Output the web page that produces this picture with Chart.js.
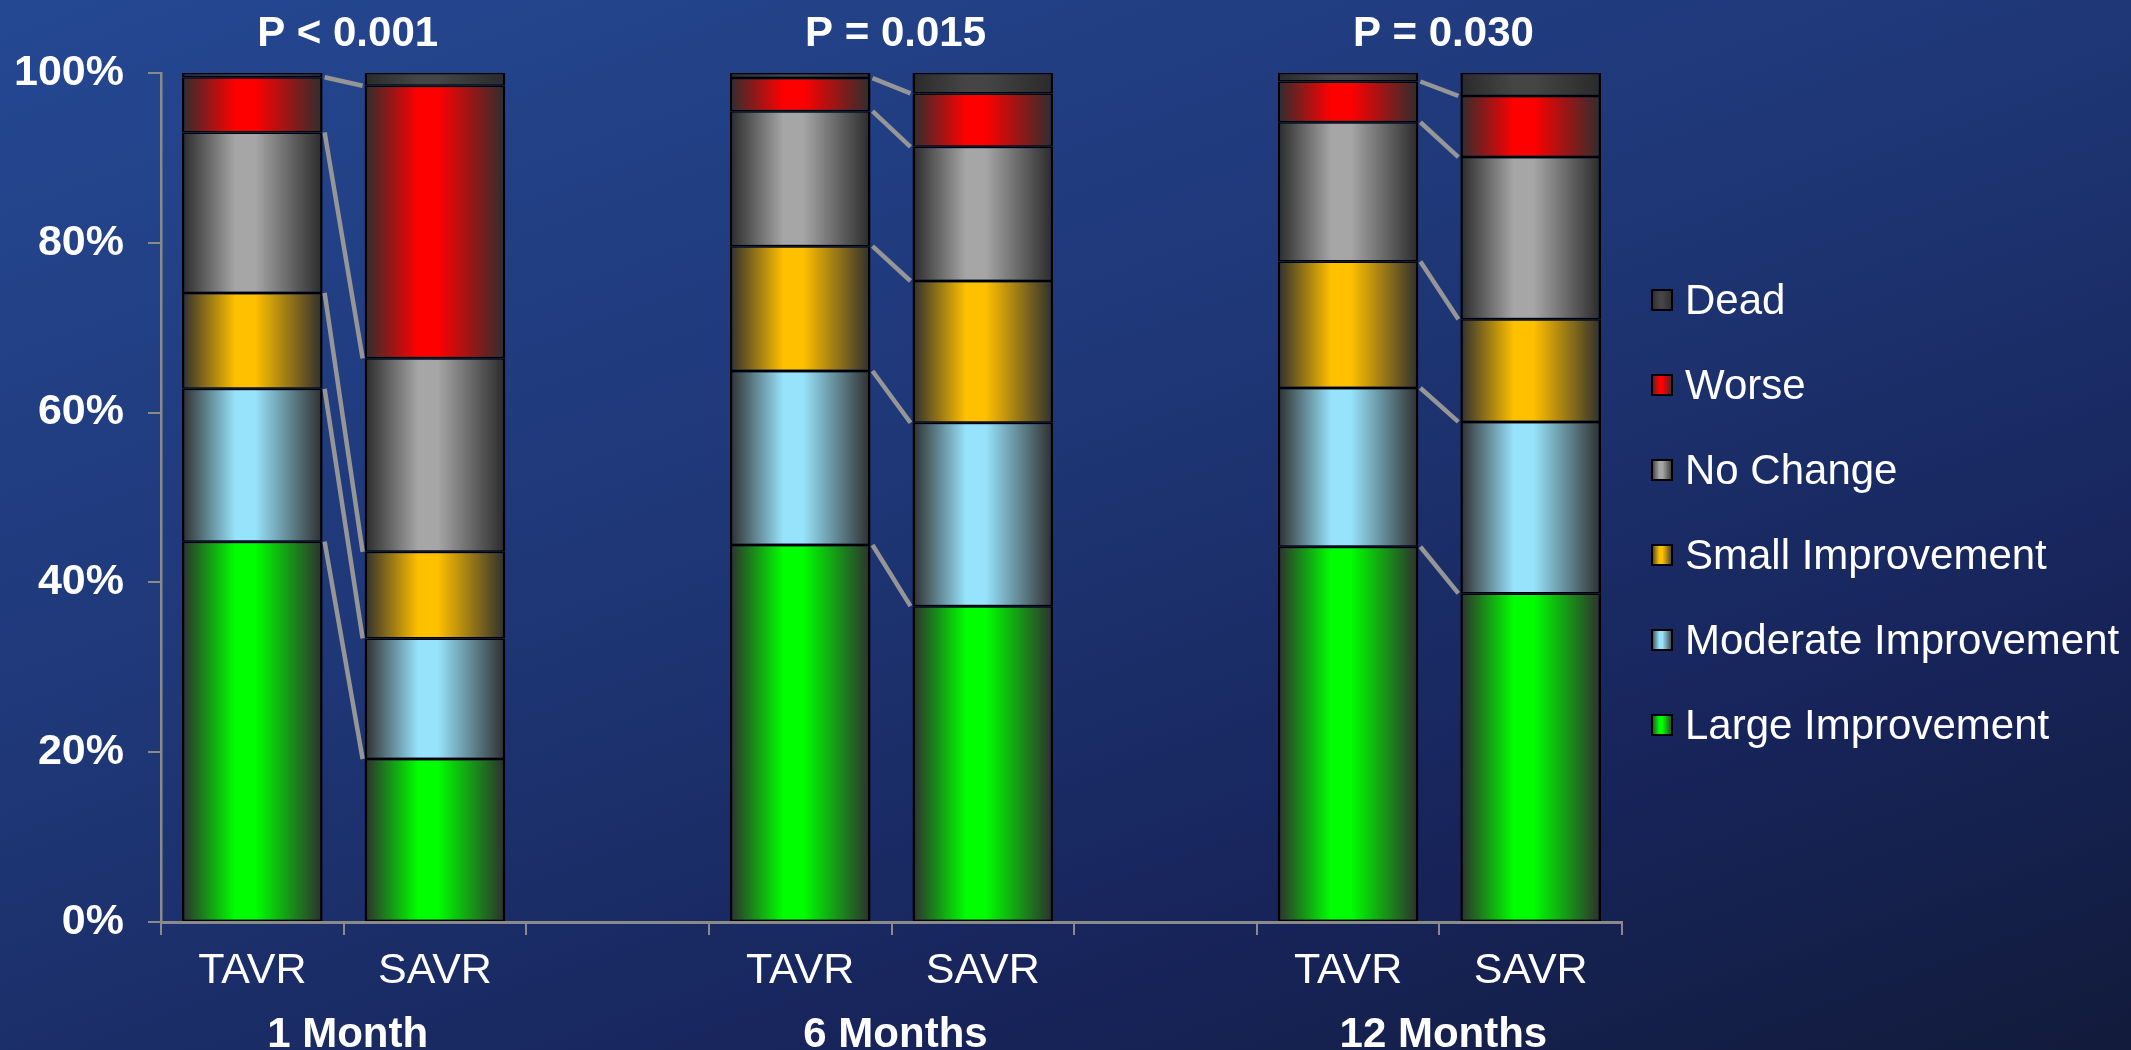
<!DOCTYPE html>
<html>
<head>
<meta charset="utf-8">
<script src="https://cdn.jsdelivr.net/npm/chart.js@4.4.1/dist/chart.umd.min.js"></script>
<style>
  html, body {
    margin: 0;
    padding: 0;
    width: 2131px;
    height: 1050px;
    overflow: hidden;
    background: linear-gradient(160deg, #254893 0%, #1e3675 45%, #17245a 75%, #121b3b 100%);
  }
  canvas { display: block; }
</style>
</head>
<body>
<canvas id="chart" width="2131" height="1050"></canvas>
<script>
// Dados (8 posições: TAVR, SAVR, vazio, TAVR, SAVR, vazio, TAVR, SAVR)
const armLabels = ["TAVR", "SAVR", "", "TAVR", "SAVR", "", "TAVR", "SAVR"];
const timepoints = ["1 Month", "6 Months", "12 Months"];
const pValues = ["P < 0.001", "P = 0.015", "P = 0.030"];
const yTicks = [0, 20, 40, 60, 80, 100];

const largeImprovement = [44.8, 19.2, null, 44.4, 37.2, null, 44.2, 38.7];
const moderateImprovement = [18.0, 14.2, null, 20.5, 21.6, null, 18.7, 20.2];
const smallImprovement = [11.3, 10.2, null, 14.7, 16.7, null, 14.9, 12.1];
const noChange = [18.9, 22.8, null, 15.9, 15.8, null, 16.4, 19.1];
const worse = [6.5, 32.1, null, 3.9, 6.3, null, 4.8, 7.2];
const dead = [0.5, 1.5, null, 0.6, 2.4, null, 1.0, 2.7];

const FONT = "'Liberation Sans', Arial, sans-serif";
const BAR_PCT = 0.77;

// Gradiente horizontal tipo "cilindro"
function addStops(g, color, edge) {
  g.addColorStop(0, edge);
  g.addColorStop(0.38, color);
  g.addColorStop(0.52, color);
  g.addColorStop(1, edge);
  return g;
}

function barFill(color, edge) {
  return function (ctx) {
    const chart = ctx.chart;
    if (!chart.chartArea || ctx.dataIndex === undefined) return color;
    const xs = chart.scales.x;
    const cx = xs.getPixelForValue(ctx.dataIndex);
    const half = (xs.width / armLabels.length) * BAR_PCT / 2;
    const g = chart.ctx.createLinearGradient(cx - half, 0, cx + half, 0);
    return addStops(g, color, edge);
  };
}

const series = [
  { label: "Large Improvement", data: largeImprovement, color: "#00ff00", edge: "#2e2e2e" },
  { label: "Moderate Improvement", data: moderateImprovement, color: "#97e3fb", edge: "#2e2e2e" },
  { label: "Small Improvement", data: smallImprovement, color: "#ffc000", edge: "#2e2e2e" },
  { label: "No Change", data: noChange, color: "#a6a6a6", edge: "#2a2a2a" },
  { label: "Worse", data: worse, color: "#ff0000", edge: "#2e2e2e" },
  { label: "Dead", data: dead, color: "#454545", edge: "#2a2a2a" },
];

// Linhas de ligação entre TAVR e SAVR
const connectorPlugin = {
  id: "connectors",
  afterDatasetsDraw(chart) {
    const ctx = chart.ctx;
    ctx.save();
    ctx.strokeStyle = "#969696";
    ctx.lineWidth = 4.5;
    timepoints.forEach((t, gi) => {
      const ti = gi * 3;
      const si = gi * 3 + 1;
      for (let k = 0; k < series.length - 1; k++) {
        const meta = chart.getDatasetMeta(k);
        const a = meta.data[ti];
        const b = meta.data[si];
        ctx.beginPath();
        ctx.moveTo(a.x + a.width / 2 + 2, a.y);
        ctx.lineTo(b.x - b.width / 2 - 2, b.y);
        ctx.stroke();
      }
    });
    ctx.restore();
  },
};

// Textos: valores de P, períodos e legenda
const textPlugin = {
  id: "texts",
  afterDraw(chart) {
    const ctx = chart.ctx;
    const xs = chart.scales.x;
    ctx.save();
    ctx.fillStyle = "#ffffff";
    ctx.textAlign = "center";
    ctx.textBaseline = "alphabetic";
    ctx.font = "bold 42px " + FONT;
    timepoints.forEach((t, gi) => {
      const mid = (xs.getPixelForValue(gi * 3) + xs.getPixelForValue(gi * 3 + 1)) / 2;
      ctx.fillText(pValues[gi], mid + 4, 46);
      ctx.fillText(t, mid + 4, 1047);
    });

    // Legenda (ordem invertida)
    const lx = 1651;
    const ly = 300;
    const step = 85;
    const box = 22;
    ctx.textAlign = "left";
    ctx.font = "42px " + FONT;
    series.slice().reverse().forEach((s, i) => {
      const cy = ly + i * step;
      const g = ctx.createLinearGradient(lx, 0, lx + box, 0);
      addStops(g, s.color, s.edge);
      ctx.fillStyle = g;
      ctx.fillRect(lx, cy - box / 2, box, box);
      ctx.strokeStyle = "#000000";
      ctx.lineWidth = 2;
      ctx.strokeRect(lx + 1, cy - box / 2 + 1, box - 2, box - 2);
      ctx.fillStyle = "#ffffff";
      ctx.fillText(s.label, lx + 34, cy + 14);
    });
    ctx.restore();
  },
};

new Chart(document.getElementById("chart"), {
  type: "bar",
  data: {
    labels: armLabels,
    datasets: series.map((s) => ({
      label: s.label,
      data: s.data,
      backgroundColor: barFill(s.color, s.edge),
      borderColor: "#000000",
      borderWidth: { top: 1.5, bottom: 1.5, left: 2.5, right: 2.5 },
      borderSkipped: false,
      barPercentage: BAR_PCT,
      categoryPercentage: 1,
    })),
  },
  options: {
    responsive: false,
    devicePixelRatio: 1,
    animation: false,
    layout: {
      padding: { top: 73, right: 509, bottom: 0, left: 0 },
    },
    plugins: {
      legend: { display: false },
      tooltip: { enabled: false },
    },
    scales: {
      x: {
        stacked: true,
        grid: {
          offset: true,
          drawOnChartArea: false,
          drawTicks: true,
          tickLength: 13,
          color: "#8a8a8a",
          lineWidth: 2,
        },
        border: { display: true, color: "#8a8a8a", width: 3 },
        ticks: {
          color: "#ffffff",
          font: { family: FONT, size: 43 },
          padding: 10,
          maxRotation: 0,
          autoSkip: false,
        },
        afterFit: (scale) => {
          scale.height = 128;
        },
      },
      y: {
        stacked: true,
        min: 0,
        max: 100,
        afterBuildTicks: (scale) => {
          scale.ticks = yTicks.map((v) => ({ value: v }));
        },
        grid: {
          drawOnChartArea: false,
          drawTicks: true,
          tickLength: 13,
          color: "#8a8a8a",
          lineWidth: 2,
        },
        border: { display: true, color: "#8a8a8a", width: 2.5 },
        ticks: {
          color: "#ffffff",
          font: { family: FONT, size: 43, weight: "bold" },
          padding: 24,
          callback: (v) => v + "%",
        },
        afterFit: (scale) => {
          scale.width = 161;
        },
      },
    },
  },
  plugins: [connectorPlugin, textPlugin],
});
</script>
</body>
</html>
